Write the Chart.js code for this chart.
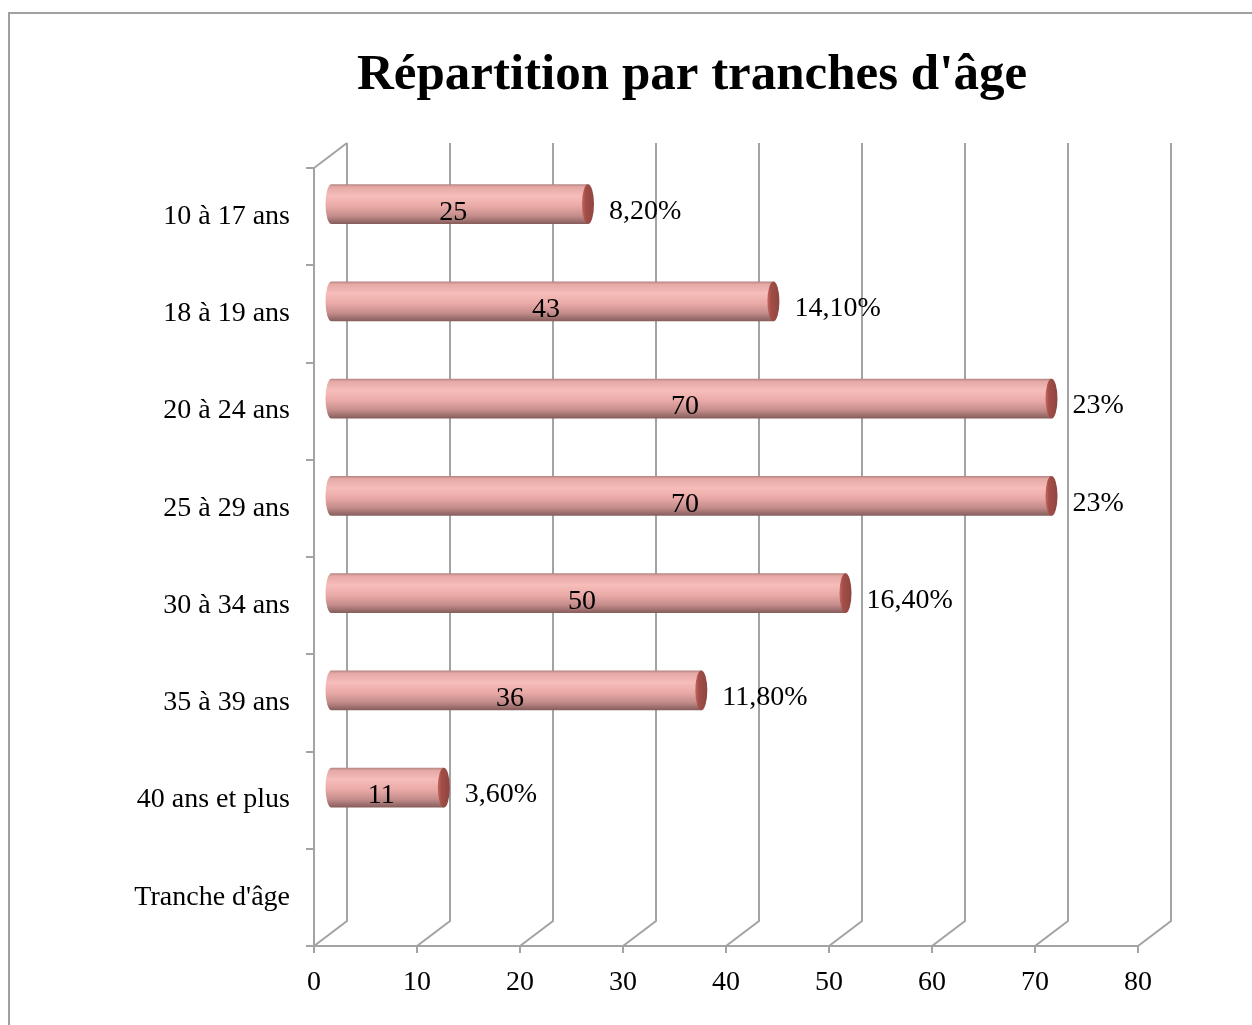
<!DOCTYPE html>
<html lang="fr">
  <head>
    <meta charset="UTF-8" />
    <title>Répartition par tranches d'âge</title>
    <script src="https://cdn.jsdelivr.net/npm/chart.js"></script>
    <style>
      html, body { margin: 0; padding: 0; background: #ffffff; }
      .wrap { width: 1252px; height: 1025px; position: relative; }
    </style>
  </head>
  <body>
    <div class="wrap">
      <canvas id="ageChart"></canvas>
    </div>

    <script>
      // données
      const categories = [
        "10 à 17 ans",
        "18 à 19 ans",
        "20 à 24 ans",
        "25 à 29 ans",
        "30 à 34 ans",
        "35 à 39 ans",
        "40 ans et plus",
        "Tranche d'âge",
      ];
      const effectifs = [25, 43, 70, 70, 50, 36, 11];
      const pourcentages = ["8,20%", "14,10%", "23%", "23%", "16,40%", "11,80%", "3,60%"];
      const xTicks = [0, 10, 20, 30, 40, 50, 60, 70, 80];

      const FONT = "'Liberation Serif', 'Times New Roman', serif";
      const GRID = "#a3a3a3";
      const DX = 33; // profondeur 3D
      const DY = 25;

      // cadre + titre + murs 3D + cylindres
      const decor = {
        id: "decor",
        beforeDraw(chart) {
          const ctx = chart.ctx;
          ctx.save();
          ctx.strokeStyle = "#a0a0a0";
          ctx.lineWidth = 2;
          ctx.strokeRect(9, 13, 1300, 1100);
          ctx.fillStyle = "#000";
          ctx.font = "bold 51px " + FONT;
          ctx.textAlign = "center";
          ctx.textBaseline = "middle";
          ctx.fillText("Répartition par tranches d'âge", 692, 76);
          ctx.restore();
        },
        beforeDatasetsDraw(chart) {
          const ctx = chart.ctx;
          const xs = chart.scales.x;
          const a = chart.chartArea;
          ctx.save();
          ctx.strokeStyle = GRID;
          ctx.lineWidth = 2;
          xTicks.forEach((v) => {
            const px = xs.getPixelForValue(v);
            ctx.beginPath();
            ctx.moveTo(px, a.bottom);
            ctx.lineTo(px + DX, a.bottom - DY);
            ctx.lineTo(px + DX, a.top - DY);
            ctx.stroke();
          });
          // arête haute du mur gauche
          ctx.beginPath();
          ctx.moveTo(a.left, a.top);
          ctx.lineTo(a.left + DX, a.top - DY);
          ctx.stroke();
          ctx.restore();
        },
        afterDatasetsDraw(chart) {
          const ctx = chart.ctx;
          const meta = chart.getDatasetMeta(0);
          ctx.save();
          meta.data.forEach((el, i) => {
            if (effectifs[i] == null) return;
            const x0 = el.base + DX / 2;
            const x1 = el.x + DX / 2;
            const cy = el.y - DY / 2;
            const r = el.height / 2;
            const rx = 6;

            // corps du cylindre
            const g = ctx.createLinearGradient(0, cy - r, 0, cy + r);
            g.addColorStop(0, "#b08280");
            g.addColorStop(0.07, "#e5a8a5");
            g.addColorStop(0.3, "#f6bdba");
            g.addColorStop(0.55, "#eaaaa7");
            g.addColorStop(0.8, "#c28c8a");
            g.addColorStop(1, "#845c5a");
            ctx.beginPath();
            ctx.moveTo(x0, cy - r);
            ctx.lineTo(x1, cy - r);
            ctx.lineTo(x1, cy + r);
            ctx.lineTo(x0, cy + r);
            ctx.ellipse(x0, cy, rx, r, 0, Math.PI / 2, (3 * Math.PI) / 2);
            ctx.closePath();
            ctx.fillStyle = g;
            ctx.fill();

            // face de bout
            const c = ctx.createLinearGradient(x1 - rx, 0, x1 + rx, 0);
            c.addColorStop(0, "#c8645e");
            c.addColorStop(0.3, "#a24e48");
            c.addColorStop(1, "#8f4540");
            ctx.beginPath();
            ctx.ellipse(x1, cy, rx, r, 0, 0, Math.PI * 2);
            ctx.fillStyle = c;
            ctx.fill();

            // étiquettes
            ctx.fillStyle = "#000";
            ctx.font = "28px " + FONT;
            ctx.textBaseline = "middle";
            ctx.textAlign = "center";
            ctx.fillText(String(effectifs[i]), (el.base + el.x) / 2 + 10, el.y - 4);
            ctx.textAlign = "left";
            ctx.fillText(pourcentages[i], x1 + rx + 15, el.y - 5);
          });
          ctx.restore();
        },
      };

      const ctx = document.getElementById("ageChart").getContext("2d");
      new Chart(ctx, {
        type: "bar",
        data: {
          labels: categories,
          datasets: [
            {
              label: "Effectif",
              data: effectifs,
              backgroundColor: "rgba(0,0,0,0)",
              borderWidth: 0,
              categoryPercentage: 1,
              barPercentage: 0.41,
            },
          ],
        },
        options: {
          indexAxis: "y",
          responsive: true,
          maintainAspectRatio: false,
          animation: false,
          layout: { padding: { top: 168, left: 20, right: 114, bottom: 0 } },
          plugins: {
            legend: { display: false },
            title: { display: false },
            tooltip: { enabled: false },
          },
          scales: {
            x: {
              type: "linear",
              min: 0,
              max: 80,
              afterFit: (s) => { s.height = 79; },
              afterBuildTicks: (s) => { s.ticks = xTicks.map((v) => ({ value: v })); },
              ticks: { color: "#000", font: { family: FONT, size: 28 }, padding: 13 },
              grid: { drawOnChartArea: false, drawTicks: true, tickLength: 7, color: GRID, lineWidth: 2 },
              border: { display: true, color: GRID, width: 2 },
            },
            y: {
              type: "category",
              afterFit: (s) => { s.width = 294; },
              ticks: { color: "#000", font: { family: FONT, size: 28 }, padding: 16 },
              grid: { offset: true, drawOnChartArea: false, drawTicks: true, tickLength: 8, color: GRID, lineWidth: 2 },
              border: { display: true, color: GRID, width: 2 },
            },
          },
        },
        plugins: [decor],
      });
    </script>
  </body>
</html>
